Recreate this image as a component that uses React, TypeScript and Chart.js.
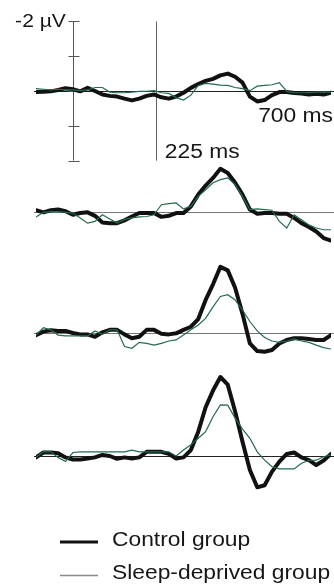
import React, { useEffect, useRef } from "react";
import { Chart, registerables } from "chart.js";

Chart.register(...registerables);

// ---- data (time in ms, amplitude in µV; negative plotted upward) ----
const timesMs = [-100, -80, -60, -40, -20, 0, 20, 40, 60, 80, 100, 120, 140, 160, 180, 200, 220, 240, 260, 280, 300, 320, 340, 360, 380, 400, 420, 440, 460, 480, 500, 520, 540, 560, 580, 600, 620, 640, 660, 680, 700];

const control1 = [0.03, 0.02, 0.01, -0.03, -0.08, -0.05, 0.01, -0.09, 0, 0.1, 0.14, 0.16, 0.22, 0.27, 0.22, 0.14, 0.1, 0.18, 0.22, 0.16, 0.05, -0.09, -0.2, -0.29, -0.35, -0.45, -0.5, -0.41, -0.24, 0.16, 0.3, 0.26, 0.12, 0.03, 0.03, 0.06, 0.07, 0.1, 0.08, 0.1, 0.05];
const sleep1 = [-0.07, -0.05, -0.03, -0.05, -0.03, -0.03, -0.01, -0.03, -0.1, -0.1, 0.03, 0.05, 0.05, 0.03, 0.01, 0.01, -0.01, 0.05, 0.07, 0.19, 0.26, 0.12, -0.16, -0.22, -0.2, -0.17, -0.16, -0.1, -0.07, -0.01, -0.14, -0.16, -0.18, -0.24, 0.01, 0.05, 0.05, 0.05, 0.03, 0.03, 0.03];

const control2 = [-0.05, 0.01, -0.05, -0.07, -0.02, 0.08, 0.03, 0.01, 0.11, 0.3, 0.32, 0.32, 0.24, 0.13, 0.03, 0.03, 0.03, 0.14, 0.11, 0.03, 0.03, -0.16, -0.5, -0.76, -0.98, -1.24, -1.12, -0.84, -0.5, -0.07, 0.05, 0.03, 0.03, 0.05, 0.05, 0.17, 0.32, 0.43, 0.56, 0.75, 0.82];
const sleep2 = [0.14, 0.01, -0.01, -0.01, 0.01, 0.03, 0.17, 0.32, 0.27, 0.08, 0.2, 0.32, 0.22, 0.17, 0.14, 0.13, 0.08, -0.21, -0.24, -0.26, -0.09, -0.16, -0.45, -0.64, -0.84, -0.93, -0.98, -0.79, -0.45, -0.07, -0.09, -0.07, -0.05, 0.27, 0.46, 0.08, 0.22, 0.37, 0.46, 0.51, 0.51];

const control3 = [0.06, -0.04, -0.08, -0.06, -0.06, 0, 0.04, 0.04, 0.11, -0.02, -0.09, -0.09, 0.04, 0.15, 0.11, -0.09, -0.09, 0.02, 0.04, 0.01, -0.09, -0.18, -0.4, -0.95, -1.4, -1.9, -1.8, -1.3, -0.55, 0.3, 0.52, 0.54, 0.49, 0.3, 0.2, 0.15, 0.15, 0.17, 0.2, 0.2, 0.06];
const sleep3 = [0.06, -0.15, -0.09, 0.06, 0.08, 0.08, 0.08, 0.08, -0.06, 0.04, -0.09, -0.09, 0.39, 0.44, 0.27, 0.3, 0.35, 0.3, 0.23, 0.2, 0.06, -0.09, -0.23, -0.42, -0.75, -1.05, -1.1, -0.95, -0.66, -0.33, -0.06, 0.13, 0.23, 0.27, 0.23, 0.17, 0.23, 0.27, 0.35, 0.42, 0.46];

const control4 = [0.04, -0.1, -0.1, -0.08, 0.04, 0.1, 0.1, 0.07, 0.04, -0.03, 0, 0.08, 0.04, 0.07, 0.04, -0.12, -0.12, -0.12, -0.06, 0.07, 0.04, -0.17, -0.7, -1.4, -1.88, -2.27, -2.05, -1.28, -0.41, 0.4, 0.9, 0.84, 0.45, 0.16, -0.06, -0.1, 0.04, 0.12, 0.26, 0.13, -0.06];
const sleep4 = [0.04, -0.12, -0.12, 0.04, 0.16, -0.1, -0.12, -0.12, -0.12, -0.12, -0.12, -0.12, -0.12, -0.17, -0.12, -0.12, -0.12, -0.12, -0.12, 0, -0.17, -0.32, -0.51, -0.7, -1.13, -1.47, -1.46, -1.09, -0.77, -0.51, -0.12, 0.12, 0.31, 0.37, 0.37, 0.37, 0.21, 0.13, 0.12, 0.02, -0.03];

const controlSeries = [control1, control2, control3, control4];
const sleepSeries = [sleep1, sleep2, sleep3, sleep4];

const calibTicks = [-2, -1, 0, 1, 2];
const calibLabel = "-2 \u00B5V";
const markerTime = 225;
const markerLabel = "225 ms";
const endTime = 700;
const endLabel = "700 ms";
const legendLabels = ["Control group", "Sleep-deprived group"];

// ---- layout / style ----
const W = 334;
const H = 586;
const PX_PER_UV = 34.8;
const BASELINES = [91, 212, 333, 456];
const BASELINE_COLORS = ["#222", "#777", "#777", "#222"];
const CONTROL_COLOR = "#111111";
const SLEEP_COLOR = "#236b4a";
const LEGEND_SLEEP_COLOR = "#8a8a8a";
const FONT = '"Liberation Sans", Arial, sans-serif';
const TEXT_COLOR = "#161616";
const TEXT_STRETCH = 1.17;

const toPoints = (vals: number[]) => vals.map((v, i) => ({ x: timesMs[i], y: v }));

function stretchedText(ctx: CanvasRenderingContext2D, text: string, x: number, y: number, size: number, align: CanvasTextAlign, baseline: CanvasTextBaseline, sx: number) {
  ctx.save();
  ctx.font = `${size}px ${FONT}`;
  ctx.textAlign = align;
  ctx.textBaseline = baseline;
  ctx.translate(x, y);
  ctx.scale(sx, 1);
  ctx.fillText(text, 0, 0);
  ctx.restore();
}

const overlayPlugin = {
  id: "erpOverlay",
  beforeDatasetsDraw(chart: any) {
    const ctx = chart.ctx;
    const xs = chart.scales.x;
    ctx.save();
    BASELINES.forEach((_, i) => {
      const ys = chart.scales["y" + i];
      const y = Math.round(ys.getPixelForValue(0)) + 0.5;
      ctx.strokeStyle = BASELINE_COLORS[i];
      ctx.lineWidth = 1;
      ctx.beginPath();
      ctx.moveTo(xs.getPixelForValue(timesMs[0]) - 2, y);
      ctx.lineTo(W, y);
      ctx.stroke();
    });
    const y0 = chart.scales.y0;
    const cx = Math.round(xs.getPixelForValue(0)) + 0.5;
    const top = y0.getPixelForValue(calibTicks[0]);
    const bot = y0.getPixelForValue(calibTicks[calibTicks.length - 1]);
    ctx.strokeStyle = "#555";
    ctx.lineWidth = 1;
    ctx.beginPath();
    ctx.moveTo(cx, top);
    ctx.lineTo(cx, bot);
    calibTicks.forEach((t) => {
      const ty = Math.round(y0.getPixelForValue(t)) + 0.5;
      ctx.moveTo(cx - 5, ty);
      ctx.lineTo(cx + 6, ty);
    });
    ctx.stroke();
    const mx = Math.round(xs.getPixelForValue(markerTime)) + 0.5;
    ctx.strokeStyle = "#666";
    ctx.beginPath();
    ctx.moveTo(mx, top);
    ctx.lineTo(mx, bot);
    ctx.stroke();
    ctx.restore();
  },
  afterDraw(chart: any) {
    const ctx = chart.ctx;
    const xs = chart.scales.x;
    const y0 = chart.scales.y0;
    ctx.save();
    ctx.fillStyle = TEXT_COLOR;
    stretchedText(ctx, calibLabel, xs.getPixelForValue(0) - 7, y0.getPixelForValue(calibTicks[0]) + 0.5, 18, "right", "middle", TEXT_STRETCH);
    stretchedText(ctx, endLabel, xs.getPixelForValue(endTime) + 2, y0.getPixelForValue(0) + 31, 19.5, "right", "alphabetic", TEXT_STRETCH);
    stretchedText(ctx, markerLabel, xs.getPixelForValue(markerTime) + 9, y0.getPixelForValue(calibTicks[calibTicks.length - 1]) - 3, 19.5, "left", "alphabetic", TEXT_STRETCH);
    const lx0 = 60, lx1 = 98, tx = 112;
    ctx.strokeStyle = CONTROL_COLOR;
    ctx.lineWidth = 3;
    ctx.beginPath();
    ctx.moveTo(lx0, 542);
    ctx.lineTo(lx1, 542);
    ctx.stroke();
    ctx.strokeStyle = LEGEND_SLEEP_COLOR;
    ctx.lineWidth = 1.3;
    ctx.beginPath();
    ctx.moveTo(lx0, 575.5);
    ctx.lineTo(lx1, 575.5);
    ctx.stroke();
    stretchedText(ctx, legendLabels[0], tx, 546, 19.5, "left", "alphabetic", TEXT_STRETCH);
    stretchedText(ctx, legendLabels[1], tx, 579, 19.5, "left", "alphabetic", TEXT_STRETCH);
    ctx.restore();
  },
};

export default function App() {
  const canvasRef = useRef<HTMLCanvasElement | null>(null);

  useEffect(() => {
    if (!canvasRef.current) return;
    const datasets: any[] = [];
    sleepSeries.forEach((s, i) => {
      datasets.push({
        label: legendLabels[1] + " " + (i + 1),
        data: toPoints(s),
        yAxisID: "y" + i,
        borderColor: SLEEP_COLOR,
        borderWidth: 1.2,
        pointRadius: 0,
        tension: 0,
        fill: false,
      });
    });
    controlSeries.forEach((s, i) => {
      datasets.push({
        label: legendLabels[0] + " " + (i + 1),
        data: toPoints(s),
        yAxisID: "y" + i,
        borderColor: CONTROL_COLOR,
        borderWidth: 4,
        borderJoinStyle: "round",
        borderCapStyle: "round",
        pointRadius: 0,
        tension: 0,
        fill: false,
      });
    });
    const scales: any = {
      x: { type: "linear", min: timesMs[0], max: timesMs[timesMs.length - 1], display: false },
    };
    BASELINES.forEach((b, i) => {
      scales["y" + i] = {
        type: "linear",
        display: false,
        reverse: true,
        min: -b / PX_PER_UV,
        max: (H - b) / PX_PER_UV,
      };
    });
    const chart = new Chart(canvasRef.current, {
      type: "line",
      data: { datasets },
      options: {
        responsive: false,
        maintainAspectRatio: false,
        animation: false,
        layout: { padding: { left: 36, right: 3, top: 0, bottom: 0 } },
        plugins: { legend: { display: false }, tooltip: { enabled: false } },
        scales,
      },
      plugins: [overlayPlugin],
    });
    return () => chart.destroy();
  }, []);

  return (
    <div style={{ position: "fixed", left: 0, top: 0, width: W, height: H, background: "#fff" }}>
      <canvas ref={canvasRef} width={W} height={H} style={{ width: W, height: H, display: "block" }} />
    </div>
  );
}
